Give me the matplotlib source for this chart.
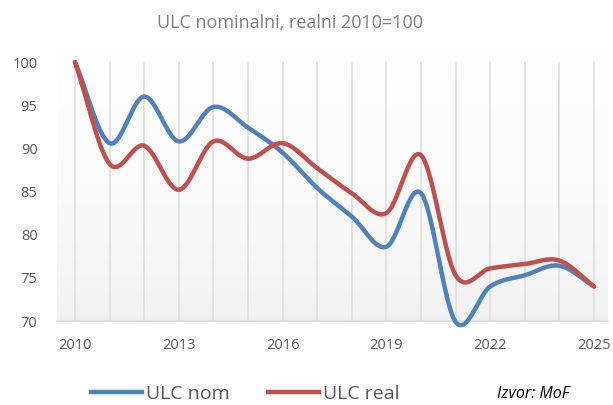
import numpy as np
import matplotlib.pyplot as plt
from matplotlib.lines import Line2D

years = list(range(2010, 2026))
ulc_nom = [100, 90.6, 96.0, 90.8, 94.8, 92.4, 89.5, 85.4, 82.1, 78.6, 84.8, 69.9, 74.0, 75.3, 76.4, 74.0]
ulc_real = [100, 88.2, 90.3, 85.2, 90.8, 88.8, 90.6, 87.7, 84.8, 82.5, 89.2, 75.3, 76.1, 76.6, 77.0, 74.0]
xticks = [2010, 2013, 2016, 2019, 2022, 2025]
yticks = [70, 75, 80, 85, 90, 95, 100]

plt.rcParams['font.family'] = ['Open Sans', 'DejaVu Sans']


def smooth(x, y, n=30):
    # catmull-rom style smoothing, like excel "smoothed line"
    x = np.asarray(x, float)
    y = np.asarray(y, float)
    px = np.concatenate([[2 * x[0] - x[1]], x, [2 * x[-1] - x[-2]]])
    py = np.concatenate([[2 * y[0] - y[1]], y, [2 * y[-1] - y[-2]]])
    xs, ys = [], []
    t = np.linspace(0, 1, n, endpoint=False)
    for i in range(1, len(px) - 2):
        for p, out in ((px, xs), (py, ys)):
            p0, p1, p2, p3 = p[i - 1], p[i], p[i + 1], p[i + 2]
            c1 = p1 + (p2 - p0) / 6
            c2 = p2 - (p3 - p1) / 6
            out.extend((1 - t) ** 3 * p1 + 3 * (1 - t) ** 2 * t * c1 + 3 * (1 - t) * t ** 2 * c2 + t ** 3 * p2)
    xs.append(x[-1])
    ys.append(y[-1])
    return np.array(xs), np.array(ys)


fig = plt.figure(figsize=(6.13, 4.05), dpi=100)
ax = fig.add_axes([57 / 613, 1 - 321 / 405, 551 / 613, 259 / 405])

# gradient background of plot area
grad = np.linspace(0, 1, 256).reshape(-1, 1) ** 0.6
ax.imshow(grad, cmap=plt.matplotlib.colors.LinearSegmentedColormap.from_list('g', ['#f0f0f0', '#ffffff']),
          extent=[0, 1, 0, 1.05], transform=ax.transAxes, aspect='auto', origin='lower',
          zorder=0, clip_on=False)

for yr in years:
    ax.axvline(yr, color='#dedede', lw=1.2, zorder=1)

blue = '#4f81bd'
red = '#c0504d'
sx, sy = smooth(years, ulc_nom)
ax.plot(sx, sy, color=blue, lw=3.2, solid_capstyle='round', zorder=3, clip_on=False)
sx, sy = smooth(years, ulc_real)
ax.plot(sx, sy, color=red, lw=3.2, solid_capstyle='round', zorder=4, clip_on=False)

ax.set_xlim(2010 - 18 / 34.6, 2025 + 14 / 34.6)
ax.set_ylim(70, 100)
ax.set_xticks(xticks)
ax.set_yticks(yticks)
ax.tick_params(length=0, labelsize=10.5, colors='#595959')
ax.tick_params(axis='x', pad=12)
ax.tick_params(axis='y', pad=14)
for s in ['top', 'right', 'left']:
    ax.spines[s].set_visible(False)
ax.spines['bottom'].set_color('#d9d9d9')
ax.spines['bottom'].set_linewidth(1.2)

fig.text(0.473, 0.943, 'ULC nominalni, realni 2010=100', ha='center', va='center',
         fontsize=13, color='#7f7f7f')

handles = [Line2D([], [], color=blue, lw=3.2), Line2D([], [], color=red, lw=3.2)]
fig.legend(handles, ['ULC nom', 'ULC real'], loc='center', bbox_to_anchor=(0.40, 0.027),
           ncol=2, frameon=False, fontsize=14, handlelength=2.6, columnspacing=2.0,
           handletextpad=0.2, labelcolor='#595959')
fig.text(0.81, 0.027, 'Izvor: MoF', ha='left', va='center', fontsize=11.5,
         style='italic', color='black')

fig.savefig('out.png', dpi=100)
